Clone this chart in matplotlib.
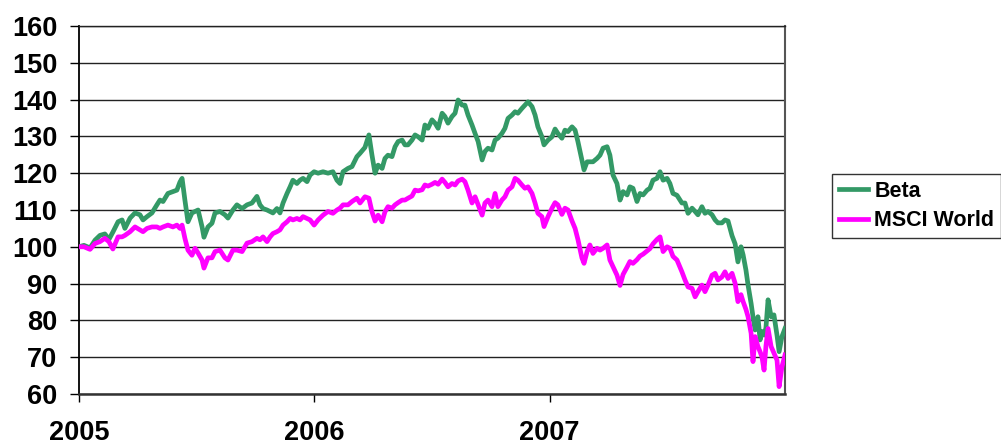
import matplotlib
matplotlib.use("Agg")
import matplotlib.pyplot as plt

# ---- data ----
# time in years since start of 2005
t_offset = [
    0.000, 0.021, 0.047, 0.068, 0.089, 0.110, 0.127, 0.144, 0.166, 0.183,
    0.195, 0.217, 0.238, 0.259, 0.272, 0.289, 0.310, 0.331, 0.344, 0.357,
    0.378, 0.399, 0.416, 0.429, 0.438, 0.450, 0.463, 0.480, 0.493, 0.506,
    0.523, 0.531, 0.548, 0.565, 0.578, 0.599, 0.620, 0.633, 0.654, 0.671,
    0.693, 0.714, 0.735, 0.756, 0.769, 0.782, 0.799, 0.812, 0.824, 0.841,
    0.854, 0.867, 0.884, 0.897, 0.909, 0.926, 0.939, 0.952, 0.969, 0.982,
    0.999, 1.016, 1.037, 1.058, 1.079, 1.096, 1.109, 1.122, 1.143, 1.160,
    1.181, 1.194, 1.215, 1.232, 1.245, 1.258, 1.271, 1.288, 1.300, 1.313,
    1.330, 1.343, 1.356, 1.373, 1.385, 1.398, 1.415, 1.428, 1.441, 1.458,
    1.470, 1.483, 1.500, 1.513, 1.526, 1.543, 1.555, 1.568, 1.585, 1.598,
    1.611, 1.628, 1.640, 1.653, 1.670, 1.683, 1.696, 1.713, 1.725, 1.738,
    1.755, 1.768, 1.780, 1.797, 1.810, 1.823, 1.840, 1.853, 1.865, 1.882,
    1.895, 1.908, 1.925, 1.938, 1.950, 1.967, 1.976, 1.993, 2.010, 2.023,
    2.035, 2.052, 2.065, 2.078, 2.095, 2.108, 2.120, 2.137, 2.146, 2.159,
    2.171, 2.184, 2.201, 2.214, 2.227, 2.244, 2.256, 2.269, 2.286, 2.299,
    2.312, 2.329, 2.341, 2.354, 2.371, 2.384, 2.397, 2.414, 2.426, 2.439,
    2.456, 2.469, 2.482, 2.499, 2.511, 2.524, 2.541, 2.562, 2.575, 2.588,
    2.605, 2.618, 2.630, 2.647, 2.660, 2.673, 2.690, 2.703, 2.715, 2.732,
    2.745, 2.758, 2.775, 2.788, 2.800, 2.813, 2.822, 2.834, 2.843, 2.856,
    2.864, 2.873, 2.885, 2.894, 2.902, 2.911, 2.919, 2.928, 2.941, 2.953,
    2.966, 2.975, 2.987, 3.000,
]

beta = [
    100.0, 100.4, 99.7, 101.8, 103.1, 103.5, 102.0, 104.0, 106.8, 107.3,
    105.0, 107.8, 109.2, 108.7, 107.3, 108.2, 109.2, 111.4, 112.7, 112.3,
    114.5, 115.0, 115.4, 117.6, 118.6, 112.7, 106.8, 109.2, 109.6, 110.0,
    105.4, 102.6, 105.4, 106.4, 109.2, 109.6, 108.7, 107.8, 110.0, 111.4,
    110.4, 111.4, 111.9, 113.7, 111.4, 110.4, 110.0, 109.6, 109.2, 110.4,
    109.2, 111.9, 114.5, 116.3, 118.1, 117.2, 118.1, 118.6, 117.7, 119.5,
    120.4, 120.0, 120.4, 120.0, 120.4, 118.1, 117.2, 120.4, 121.3, 121.8,
    124.5, 125.4, 127.0, 130.4, 124.9, 120.0, 122.2, 121.3, 124.0, 124.9,
    124.5, 127.2, 128.6, 129.0, 127.7, 127.7, 129.0, 130.4, 129.9, 129.0,
    133.1, 132.2, 134.5, 133.6, 132.2, 136.3, 135.4, 133.6, 135.4, 136.3,
    139.9, 138.5, 138.5, 135.8, 133.1, 130.8, 128.6, 123.6, 125.9, 126.8,
    126.3, 129.0, 129.5, 130.8, 132.2, 134.9, 135.8, 136.7, 136.3, 137.6,
    138.5, 139.4, 138.1, 135.8, 132.6, 129.9, 127.7, 129.0, 129.9, 132.0,
    130.8, 129.5, 131.7, 131.3, 132.6, 131.7, 128.6, 123.6, 120.9, 123.1,
    123.1, 123.1, 124.0, 124.9, 126.8, 127.2, 124.9, 119.5, 117.2, 112.7,
    115.0, 114.1, 116.3, 115.9, 112.3, 114.5, 114.1, 115.4, 115.9, 118.1,
    118.6, 120.4, 118.1, 118.6, 117.2, 114.5, 114.0, 111.9, 111.9, 109.1,
    110.5, 109.6, 108.7, 110.9, 109.1, 109.6, 108.7, 107.3, 106.5, 106.5,
    107.3, 107.0, 103.0, 100.8, 95.9, 100.0, 97.8, 93.7, 89.6, 84.6,
    81.0, 77.4, 81.0, 74.7, 77.0, 76.0, 78.0, 85.6, 81.0, 81.5,
    76.0, 71.5, 75.6, 77.8,
]

msci_world = [
    100.0, 100.0, 99.3, 100.9, 101.4, 102.3, 101.4, 99.4, 102.7, 102.7,
    103.1, 104.1, 105.4, 104.6, 104.1, 105.0, 105.4, 105.4, 105.0, 105.4,
    105.9, 105.4, 105.9, 105.0, 105.9, 102.3, 99.1, 97.7, 99.6, 98.3,
    96.4, 94.2, 97.0, 97.0, 98.7, 99.1, 97.0, 96.4, 99.1, 99.1,
    98.7, 101.0, 101.4, 102.3, 101.9, 102.7, 101.4, 102.7, 103.6, 104.1,
    104.6, 105.9, 106.8, 107.7, 107.3, 107.7, 107.3, 108.2, 107.7, 107.3,
    105.9, 107.3, 108.6, 109.6, 109.1, 110.0, 110.5, 111.4, 111.4, 112.3,
    113.2, 111.9, 113.6, 113.2, 109.5, 107.0, 108.6, 106.8, 109.5, 110.9,
    110.5, 111.4, 112.0, 112.7, 112.7, 113.2, 113.8, 115.4, 115.2, 115.5,
    116.8, 116.5, 117.0, 117.5, 117.0, 118.4, 117.5, 116.3, 117.2, 116.8,
    117.9, 118.4, 117.7, 115.4, 111.9, 113.6, 111.4, 108.6, 111.9, 112.7,
    110.9, 114.5, 110.9, 112.7, 113.6, 115.4, 116.3, 118.6, 118.1, 116.8,
    115.9, 116.3, 114.5, 111.9, 109.1, 108.2, 105.5, 108.2, 110.5, 112.0,
    111.4, 108.8, 110.5, 110.0, 107.0, 105.0, 102.0, 97.0, 95.5, 98.7,
    100.5, 98.2, 99.6, 99.1, 99.6, 100.5, 96.4, 94.6, 92.3, 89.5,
    92.5, 94.5, 96.0, 95.5, 96.5, 97.5, 98.0, 98.9, 99.5, 100.8,
    102.0, 102.7, 98.7, 100.0, 99.6, 97.4, 96.4, 93.2, 91.0, 89.1,
    88.7, 86.4, 87.8, 89.6, 87.8, 89.6, 92.3, 92.8, 91.0, 91.8,
    93.2, 91.4, 92.8, 90.1, 85.1, 87.0, 85.1, 83.0, 81.0, 76.5,
    68.8, 75.6, 72.9, 71.5, 70.1, 66.5, 73.0, 77.8, 72.9, 71.1,
    69.2, 62.0, 67.4, 70.6,
]

start_year = 2005
year_ticks = [2005, 2006, 2007]
y_ticks = [60, 70, 80, 90, 100, 110, 120, 130, 140, 150, 160]
series_names = ["Beta", "MSCI World"]

# ---- style ----
plt.rcParams["font.family"] = ["Liberation Sans", "DejaVu Sans"]
plt.rcParams["font.weight"] = "bold"

x = [start_year + v for v in t_offset]

fig = plt.figure(figsize=(10.01, 4.46), dpi=100)
ax = fig.add_axes([79 / 1001, 52 / 446, 706 / 1001, 368 / 446])

ax.plot(x, beta, color="#339966", lw=3.4, label=series_names[0],
        solid_joinstyle="round", zorder=3)
ax.plot(x, msci_world, color="#FF00FF", lw=3.4, label=series_names[1],
        solid_joinstyle="round", zorder=4)

ax.set_xlim(2005, 2008)
ax.set_ylim(60, 160)
ax.set_yticks(y_ticks)
ax.set_yticklabels([str(v) for v in y_ticks], fontsize=19.5, fontweight="bold")
ax.set_xticks(year_ticks)
ax.set_xticklabels([str(v) for v in year_ticks], fontsize=19.5, fontweight="bold")

ax.tick_params(axis="y", length=6.5, width=1.0, pad=9, color="black")
ax.tick_params(axis="x", length=6, width=1.0, pad=12.5, color="black")

ax.grid(axis="y", color="#222222", lw=1.0)
ax.set_axisbelow(True)

ax.spines["left"].set_color("black")
ax.spines["left"].set_linewidth(1.3)
ax.spines["bottom"].set_color("#333333")
ax.spines["bottom"].set_linewidth(1.8)
ax.spines["right"].set_color("#555555")
ax.spines["right"].set_linewidth(1.5)
ax.spines["top"].set_color("#222222")
ax.spines["top"].set_linewidth(1.0)

leg = fig.legend(loc="upper left", bbox_to_anchor=(832 / 1001, 1 - 174 / 446),
                 frameon=True, fancybox=False, edgecolor="black",
                 prop={"size": 15.5, "weight": "bold"},
                 handlelength=1.35, handletextpad=0.3, labelspacing=0.4,
                 borderpad=0.32, borderaxespad=0.0)
leg.get_frame().set_linewidth(1.0)
for h in leg.get_lines():
    h.set_linewidth(3.4)

fig.savefig("out.png", dpi=100)
